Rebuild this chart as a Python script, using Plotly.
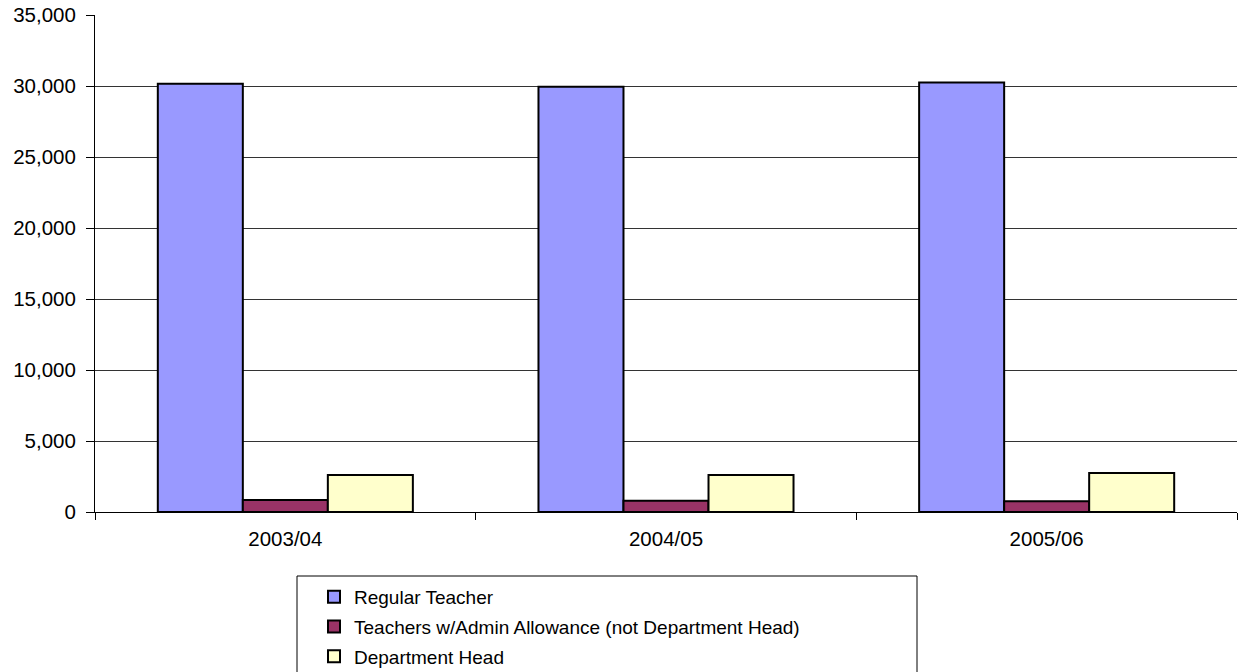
import plotly.graph_objects as go

years = ["2003/04", "2004/05", "2005/06"]
regular = [30150, 29950, 30250]
admin = [850, 800, 750]
dept_head = [2600, 2600, 2750]
series_names = ["Regular Teacher", "Teachers w/Admin Allowance (not Department Head)", "Department Head"]
colors = ["#9999FF", "#993366", "#FFFFCC"]
y_ticks = [0, 5000, 10000, 15000, 20000, 25000, 30000, 35000]

fig = go.Figure()
for i, (name, vals, col) in enumerate(zip(series_names, [regular, admin, dept_head], colors)):
    fig.add_trace(go.Bar(x=years, y=vals, name=name, legendgroup=f"g{i}",
                         marker=dict(color=col, line=dict(color="black", width=2))))

W, H = 1238, 672
L, T, B, R = 95, 15, 160, 1
pw, ph = W - L - R, H - T - B

def px_x(p):
    return (p - L) / pw

def px_y(p):
    return (H - B - p) / ph

fig.update_layout(
    width=W, height=H,
    margin=dict(l=L, r=R, t=T, b=B, autoexpand=False),
    paper_bgcolor="white", plot_bgcolor="white",
    barmode="group", bargap=0.33, bargroupgap=0,
    font=dict(family="Liberation Sans, Arial", size=20.5, color="black"),
    showlegend=True,
    legend=dict(x=px_x(297), y=px_y(578), xanchor="left", yanchor="top",
                borderwidth=0, bgcolor="rgba(0,0,0,0)",
                font=dict(size=19), traceorder="grouped", tracegroupgap=2,
                indentation=17, itemwidth=30),
    shapes=[dict(type="rect", xref="paper", yref="paper",
                 x0=px_x(297), x1=px_x(917), y0=px_y(680), y1=px_y(576),
                 line=dict(color="black", width=1), fillcolor="rgba(0,0,0,0)", layer="above")],
)
fig.update_xaxes(showline=True, linecolor="black", linewidth=1, automargin=False,
                 ticks="outside", tickson="boundaries", ticklen=7, tickcolor="black",
                 ticklabelstandoff=8, showgrid=False)
fig.update_yaxes(range=[0, 35000], tickvals=y_ticks, tickformat=",", showline=True, automargin=False,
                 linecolor="black", linewidth=1, ticks="outside", ticklen=8, tickcolor="black",
                 ticklabelstandoff=6, ticklabeloverflow="allow",
                 showgrid=True, gridcolor="#333333", gridwidth=1, zeroline=False)

fig.write_html("out.html", config={"displayModeBar": False},
               post_script="document.body.style.margin='0';document.body.style.overflow='hidden';")
